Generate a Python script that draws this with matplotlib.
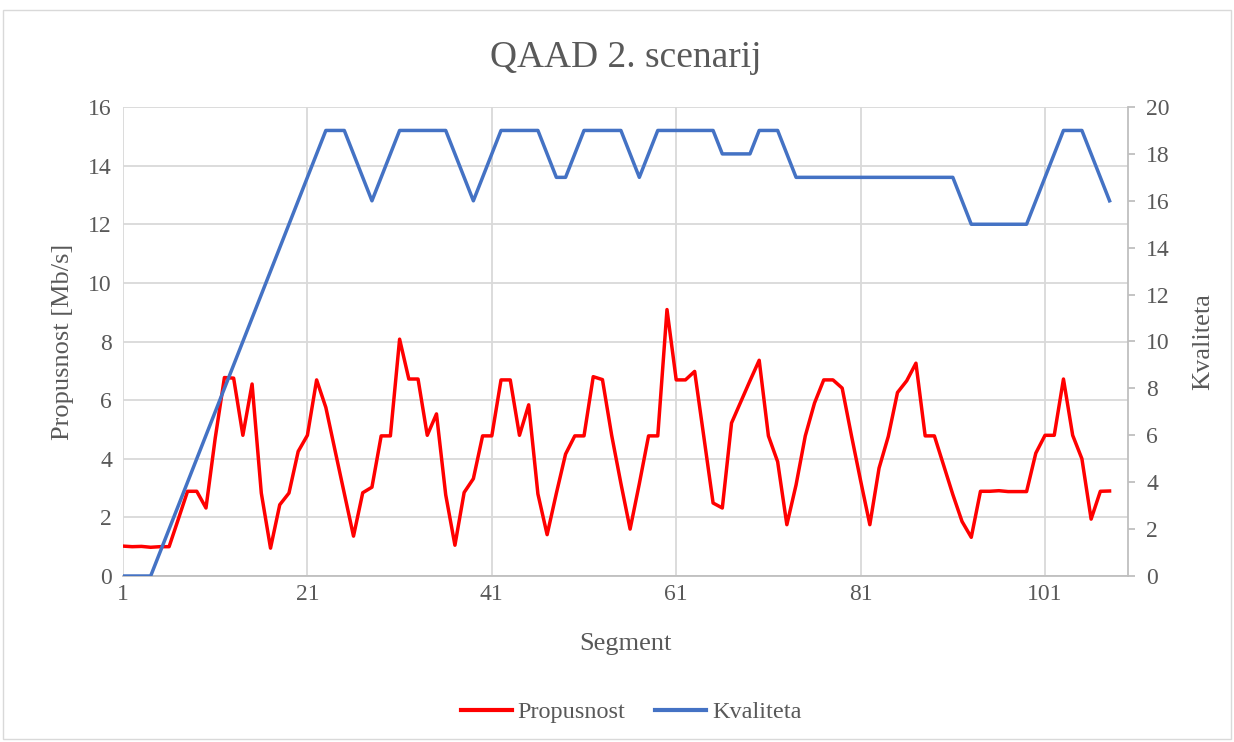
import numpy as np
import matplotlib
matplotlib.use("Agg")
import matplotlib.pyplot as plt
from matplotlib.lines import Line2D
from matplotlib.patches import Rectangle

plt.rcParams['font.family'] = ['Liberation Serif', 'DejaVu Serif']

# Data
segments = np.arange(1, 109)
propusnost = [1.02, 1.0, 1.01, 0.98, 1.0, 1.0, 1.94, 2.89, 2.89, 2.32,
              4.7, 6.77, 6.75, 4.8, 6.55, 2.83, 0.95, 2.43, 2.83, 4.25,
              4.8, 6.69, 5.75, 4.28, 2.82, 1.36, 2.84, 3.03, 4.78, 4.78,
              8.08, 6.72, 6.72, 4.8, 5.53, 2.77, 1.05, 2.85, 3.32, 4.78,
              4.78, 6.69, 6.69, 4.8, 5.84, 2.8, 1.41, 2.82, 4.16, 4.78,
              4.78, 6.8, 6.7, 4.8, 3.16, 1.6, 3.15, 4.78, 4.78, 9.09,
              6.69, 6.69, 6.98, 4.74, 2.49, 2.32, 5.22, 5.94, 6.66, 7.36,
              4.78, 3.9, 1.75, 3.11, 4.78, 5.9, 6.69, 6.69, 6.41, 4.8,
              3.25, 1.75, 3.68, 4.76, 6.26, 6.66, 7.26, 4.78, 4.78, 3.78,
              2.78, 1.86, 1.32, 2.89, 2.89, 2.91, 2.88, 2.88, 2.88, 4.19,
              4.8, 4.8, 6.72, 4.8, 4.0, 1.94, 2.89, 2.9]
kvaliteta = [0, 0, 0, 0, 1, 2, 3, 4, 5, 6,
             7, 8, 9, 10, 11, 12, 13, 14, 15, 16,
             17, 18, 19, 19, 19, 18, 17, 16, 17, 18,
             19, 19, 19, 19, 19, 19, 18, 17, 16, 17,
             18, 19, 19, 19, 19, 19, 18, 17, 17, 18,
             19, 19, 19, 19, 19, 18, 17, 18, 19, 19,
             19, 19, 19, 19, 19, 18, 18, 18, 18, 19,
             19, 19, 18, 17, 17, 17, 17, 17, 17, 17,
             17, 17, 17, 17, 17, 17, 17, 17, 17, 17,
             17, 16, 15, 15, 15, 15, 15, 15, 15, 16,
             17, 18, 19, 19, 19, 18, 17, 16]
x_ticks = [1, 21, 41, 61, 81, 101]

txt = '#595959'
grid = '#d9d9d9'
red = '#ff0000'
blue = '#4472c4'

W, H = 1234, 742
fig = plt.figure(figsize=(W / 100, H / 100), dpi=100)
fig.patches.append(Rectangle((3 / W, 3 / H), 1228 / W, 729 / H, transform=fig.transFigure,
                             fill=False, edgecolor=grid, linewidth=1))

ax = fig.add_axes([123 / W, 1 - 576 / H, (1128 - 123) / W, (576 - 107) / H])
ax2 = ax.twinx()

ax.plot(segments, propusnost, color=red, linewidth=2.5, solid_joinstyle='round')
ax2.plot(segments, kvaliteta, color=blue, linewidth=2.5, solid_joinstyle='round')

ax.set_xlim(1, 110)
ax.set_ylim(0, 16)
ax2.set_ylim(0, 20)
ax.set_xticks(x_ticks)
ax.set_yticks(np.arange(0, 17, 2))
ax2.set_yticks(np.arange(0, 21, 2))

ax.grid(True, color=grid, linewidth=1.3)
ax.set_axisbelow(True)

for a in (ax, ax2):
    for s in ('top', 'left'):
        a.spines[s].set_visible(False)
    a.spines['bottom'].set_color('#bfbfbf')
    a.spines['bottom'].set_linewidth(1.3)
    a.spines['right'].set_color('#bfbfbf')
    a.spines['right'].set_linewidth(1.3)
ax.spines['right'].set_visible(False)
ax2.spines['bottom'].set_visible(False)

ax.tick_params(axis='y', length=0, pad=8, labelsize=17, labelcolor=txt)
ax.tick_params(axis='x', length=0, pad=6, labelsize=17, labelcolor=txt)
ax2.tick_params(axis='y', length=5, width=1.3, color='#bfbfbf', pad=8, labelsize=17, labelcolor=txt)

ax.set_xlabel('Segment', fontsize=19, color=txt, labelpad=20)
ax.set_ylabel('Propusnost [Mb/s]', fontsize=19, color=txt, labelpad=10)
ax2.set_ylabel('Kvaliteta', fontsize=19, color=txt, labelpad=16)

fig.text(626 / W, 1 - 58 / H, 'QAAD 2. scenarij', ha='center', va='center', fontsize=27, color=txt)

handles = [Line2D([], [], color=red, linewidth=3), Line2D([], [], color=blue, linewidth=3)]
fig.legend(handles, ['Propusnost', 'Kvaliteta'], loc='center', bbox_to_anchor=(631 / W, 1 - 712 / H),
           ncol=2, frameon=False, fontsize=17.5, labelcolor=txt, handlelength=2.1,
           handletextpad=0.25, columnspacing=1.2)

fig.savefig('out.png', dpi=100)
